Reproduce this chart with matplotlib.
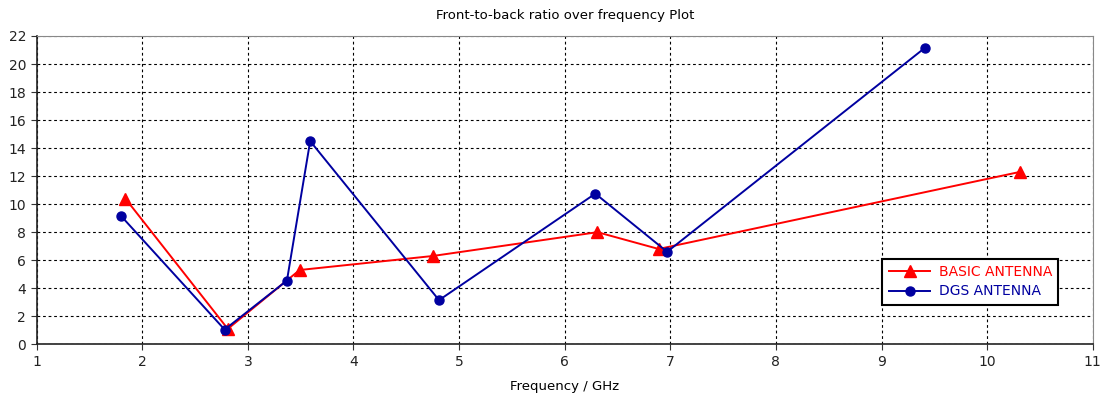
import matplotlib
matplotlib.use("Agg")
import matplotlib.pyplot as plt

# Front-to-back ratio values
basic_freq = [1.84, 2.81, 3.49, 4.75, 6.31, 6.89, 10.31]
basic_fbr = [10.4, 1.1, 5.3, 6.3, 8.0, 6.8, 12.3]

dgs_freq = [1.80, 2.78, 3.37, 3.59, 4.81, 6.29, 6.97, 9.41]
dgs_fbr = [9.15, 1.05, 4.55, 14.5, 3.15, 10.75, 6.6, 21.15]

x_ticks = list(range(1, 12))
y_ticks = list(range(0, 23, 2))

plt.rcParams['font.family'] = ['DejaVu Sans']

fig = plt.figure(figsize=(11.04, 3.96), dpi=100)
ax = fig.add_axes([0.0332, 0.1306, 0.9566, 0.7785])

ax.plot(basic_freq, basic_fbr, color='#ff0000', marker='^', markersize=8,
        linewidth=1.4, label='BASIC ANTENNA', zorder=3)
ax.plot(dgs_freq, dgs_fbr, color='#0000a0', marker='o', markersize=6.5,
        linewidth=1.4, label='DGS ANTENNA', zorder=4)

ax.set_xlim(1, 11)
ax.set_ylim(0, 22)
ax.set_xticks(x_ticks)
ax.set_yticks(y_ticks)
ax.tick_params(labelsize=10, length=4, color='#333333', labelcolor='#222222')
ax.grid(True, linestyle=(0, (2.5, 2.5)), color='black', linewidth=0.8)

for side in ['left', 'bottom']:
    ax.spines[side].set_color('#222222')
    ax.spines[side].set_linewidth(1.2)
for side in ['top', 'right']:
    ax.spines[side].set_color('#888888')

ax.set_title("Front-to-back ratio over frequency Plot", fontsize=9.5, pad=12)
ax.set_xlabel("Frequency / GHz", fontsize=9.5, labelpad=8)

leg = ax.legend(loc='lower right', bbox_to_anchor=(0.974, 0.106), fontsize=10,
                fancybox=False, framealpha=1, edgecolor='black',
                handlelength=3.0, borderpad=0.45, labelspacing=0.4,
                handletextpad=0.6)
leg.get_frame().set_linewidth(1.5)
leg.get_texts()[0].set_color('#ff0000')
leg.get_texts()[1].set_color('#0000a0')

fig.savefig('out.png', dpi=100)
